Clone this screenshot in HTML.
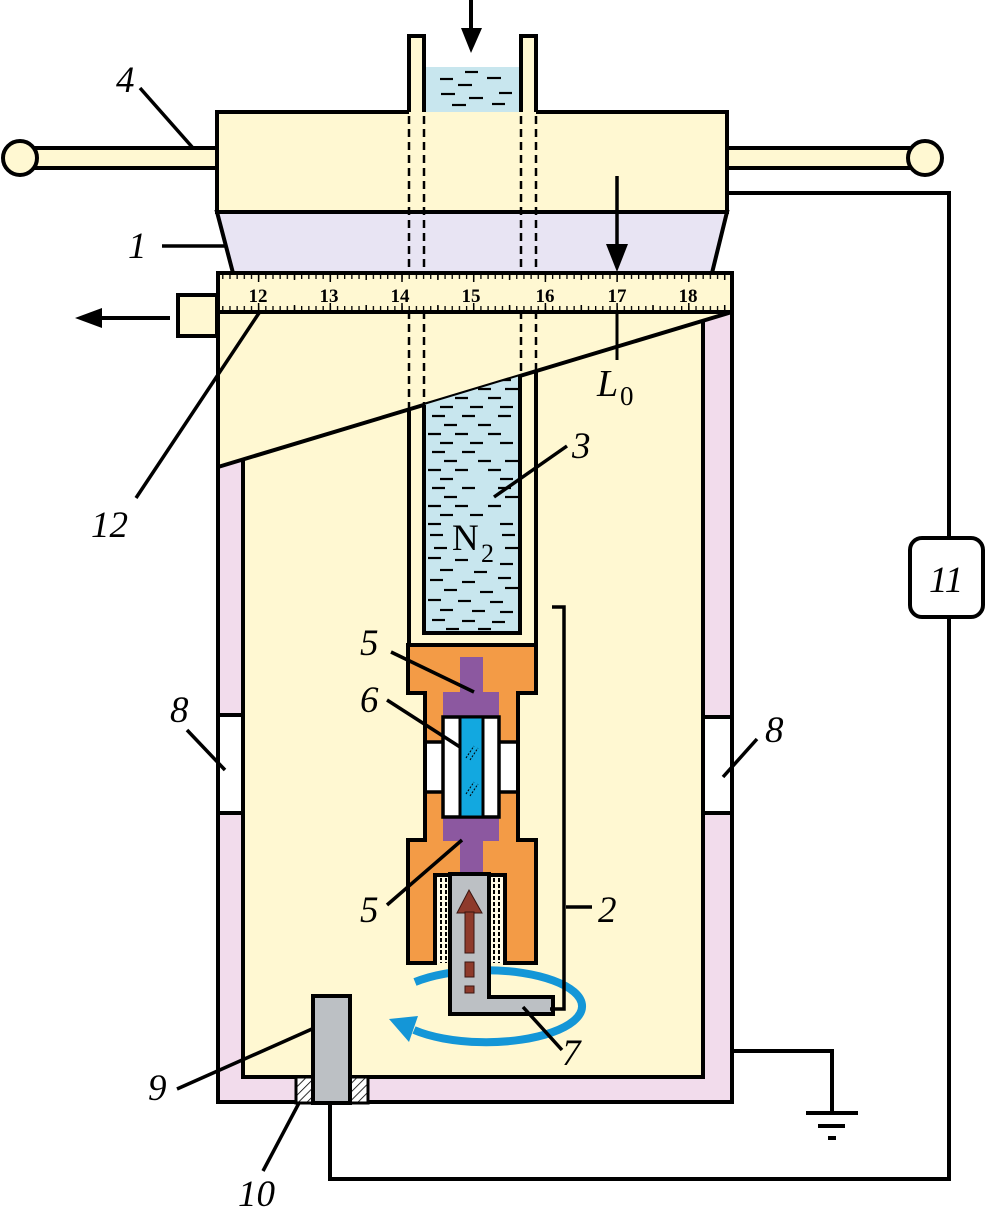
<!DOCTYPE html>
<html><head><meta charset="utf-8"><style>
html,body{margin:0;padding:0;background:#fff;}
svg{display:block;}
.lb{font-family:"Liberation Serif",serif;font-style:italic;font-size:37px;fill:#000;}
</style></head><body>
<svg width="986" height="1207" viewBox="0 0 986 1207" xmlns="http://www.w3.org/2000/svg">
<defs>
<pattern id="tk" x="258" y="273" width="7.17" height="39" patternUnits="userSpaceOnUse">
<rect x="0" y="2" width="1.3" height="4" fill="#000"/>
<rect x="0" y="33" width="1.3" height="4" fill="#000"/>
</pattern>
<pattern id="hatch" width="6" height="6" patternUnits="userSpaceOnUse" patternTransform="rotate(45)">
<rect width="6" height="6" fill="#fff"/>
<line x1="0" y1="0" x2="0" y2="6" stroke="#000" stroke-width="1.6"/>
</pattern>
<clipPath id="liq"><polygon points="426,404 518,376 518,631 426,631"/></clipPath>
</defs>

<!-- wires -->
<g fill="none" stroke="#000" stroke-width="4">
<path d="M727,193 H949 V538"/>
<path d="M949,617 V1179 H330 V1100"/>
<path d="M732,1051 H832 V1113"/>
<line x1="806" y1="1113" x2="858" y2="1113"/>
<line x1="818" y1="1126" x2="845" y2="1126"/>
<line x1="828" y1="1138" x2="836" y2="1138"/>
</g>
<rect x="910" y="538" width="73" height="79" rx="12" fill="#fff" stroke="#000" stroke-width="4"/>
<text class="lb" x="929" y="592">11</text>

<!-- handles -->
<rect x="30" y="148" width="190" height="20" fill="#fff8d2" stroke="#000" stroke-width="4"/>
<circle cx="20" cy="158" r="17" fill="#fff8d2" stroke="#000" stroke-width="4"/>
<rect x="724" y="148" width="186" height="20" fill="#fff8d2" stroke="#000" stroke-width="4"/>
<circle cx="925" cy="158" r="17" fill="#fff8d2" stroke="#000" stroke-width="4"/>

<!-- top tube with liquid -->
<rect x="424" y="67" width="97" height="47" fill="#c8e6ee"/>
<g stroke="#000" stroke-width="2.2">
<line x1="440" y1="79" x2="453" y2="79"/><line x1="465" y1="72" x2="478" y2="72"/>
<line x1="458" y1="85" x2="472" y2="85"/><line x1="487" y1="78" x2="501" y2="78"/>
<line x1="441" y1="94" x2="455" y2="94"/><line x1="469" y1="98" x2="483" y2="98"/>
<line x1="452" y1="105" x2="466" y2="105"/><line x1="499" y1="93" x2="512" y2="93"/>
<line x1="492" y1="104" x2="505" y2="104"/>
</g>
<rect x="409" y="36" width="15" height="80" fill="#fff8d2"/>
<rect x="521" y="36" width="15" height="80" fill="#fff8d2"/>
<path d="M409,114 V36 H424 V114" fill="none" stroke="#000" stroke-width="4"/>
<path d="M521,114 V36 H536 V114" fill="none" stroke="#000" stroke-width="4"/>

<!-- lid -->
<rect x="217" y="112" width="510" height="100" fill="#fff8d2"/>
<path d="M409,112 H217 V212 H727 V112 H536" fill="none" stroke="#000" stroke-width="4"/>
<polygon points="217,212 727,212 712,273 233,273" fill="#e8e4f3" stroke="#000" stroke-width="4"/>

<!-- vessel -->
<rect x="218" y="312" width="514" height="790" fill="#f2dcec"/>
<rect x="218" y="715" width="25" height="98" fill="#fff"/>
<rect x="703" y="717" width="29" height="96" fill="#fff"/>
<rect x="243" y="312" width="460" height="765" fill="#fff8d2" stroke="#000" stroke-width="4"/>
<polygon points="216,310 734,310 734,312 216,467" fill="#fff8d2"/>
<line x1="218" y1="467" x2="732" y2="312" stroke="#000" stroke-width="4"/>
<rect x="218" y="312" width="514" height="790" fill="none" stroke="#000" stroke-width="4"/>
<g stroke="#000" stroke-width="4">
<line x1="218" y1="715" x2="243" y2="715"/><line x1="218" y1="813" x2="243" y2="813"/>
<line x1="703" y1="717" x2="732" y2="717"/><line x1="703" y1="813" x2="732" y2="813"/>
</g>

<!-- dewar -->
<polygon points="424,405 520,376 520,633 424,633" fill="#c8e6ee"/>
<g clip-path="url(#liq)" stroke="#000" stroke-width="2.2">
<line x1="432" y1="380" x2="445" y2="380"/><line x1="462" y1="380" x2="475" y2="380"/><line x1="498" y1="380" x2="511" y2="380"/>
<line x1="444" y1="389" x2="457" y2="389"/><line x1="478" y1="389" x2="491" y2="389"/><line x1="505" y1="389" x2="518" y2="389"/>
<line x1="428" y1="398" x2="441" y2="398"/><line x1="455" y1="398" x2="468" y2="398"/><line x1="488" y1="398" x2="501" y2="398"/>
<line x1="440" y1="407" x2="453" y2="407"/><line x1="470" y1="407" x2="483" y2="407"/><line x1="500" y1="407" x2="513" y2="407"/>
<line x1="432" y1="416" x2="445" y2="416"/><line x1="462" y1="416" x2="475" y2="416"/><line x1="498" y1="416" x2="511" y2="416"/>
<line x1="444" y1="425" x2="457" y2="425"/><line x1="478" y1="425" x2="491" y2="425"/>
<line x1="428" y1="434" x2="441" y2="434"/><line x1="455" y1="434" x2="468" y2="434"/><line x1="488" y1="434" x2="501" y2="434"/>
<line x1="440" y1="443" x2="453" y2="443"/><line x1="470" y1="443" x2="483" y2="443"/><line x1="500" y1="443" x2="513" y2="443"/>
<line x1="432" y1="452" x2="445" y2="452"/><line x1="462" y1="452" x2="475" y2="452"/>
<line x1="444" y1="461" x2="457" y2="461"/><line x1="478" y1="461" x2="491" y2="461"/><line x1="505" y1="461" x2="518" y2="461"/>
<line x1="428" y1="470" x2="441" y2="470"/><line x1="455" y1="470" x2="468" y2="470"/><line x1="488" y1="470" x2="501" y2="470"/>
<line x1="440" y1="479" x2="453" y2="479"/><line x1="500" y1="479" x2="513" y2="479"/>
<line x1="432" y1="488" x2="445" y2="488"/><line x1="462" y1="488" x2="475" y2="488"/><line x1="498" y1="488" x2="511" y2="488"/>
<line x1="444" y1="497" x2="457" y2="497"/><line x1="505" y1="497" x2="518" y2="497"/>
<line x1="428" y1="506" x2="441" y2="506"/><line x1="455" y1="506" x2="468" y2="506"/><line x1="488" y1="506" x2="501" y2="506"/>
<line x1="440" y1="515" x2="453" y2="515"/><line x1="470" y1="515" x2="483" y2="515"/>
<line x1="428" y1="524" x2="441" y2="524"/><line x1="500" y1="524" x2="513" y2="524"/>
<line x1="430" y1="535" x2="443" y2="535"/><line x1="502" y1="535" x2="515" y2="535"/>
<line x1="434" y1="548" x2="447" y2="548"/><line x1="505" y1="548" x2="518" y2="548"/>
<line x1="428" y1="558" x2="441" y2="558"/><line x1="455" y1="560" x2="468" y2="560"/><line x1="500" y1="564" x2="513" y2="564"/>
<line x1="440" y1="570" x2="453" y2="570"/><line x1="474" y1="572" x2="487" y2="572"/>
<line x1="430" y1="580" x2="443" y2="580"/><line x1="462" y1="582" x2="475" y2="582"/><line x1="498" y1="578" x2="511" y2="578"/>
<line x1="444" y1="590" x2="457" y2="590"/><line x1="480" y1="592" x2="493" y2="592"/><line x1="505" y1="588" x2="518" y2="588"/>
<line x1="428" y1="600" x2="441" y2="600"/><line x1="458" y1="601" x2="471" y2="601"/><line x1="490" y1="602" x2="503" y2="602"/>
<line x1="440" y1="610" x2="453" y2="610"/><line x1="472" y1="611" x2="485" y2="611"/><line x1="500" y1="612" x2="513" y2="612"/>
<line x1="432" y1="620" x2="445" y2="620"/><line x1="462" y1="621" x2="475" y2="621"/><line x1="492" y1="622" x2="505" y2="622"/>
<line x1="446" y1="629" x2="459" y2="629"/><line x1="478" y1="629" x2="491" y2="629"/>
</g>
<text x="452" y="550" font-family="'Liberation Serif',serif" font-size="37" fill="#000">N</text>
<text x="481" y="562" font-family="'Liberation Serif',serif" font-size="26" fill="#000">2</text>
<path d="M424,405 V633 H520 V376" fill="none" stroke="#000" stroke-width="4"/>
<line x1="409" y1="410" x2="409" y2="647" stroke="#000" stroke-width="4"/>
<line x1="536" y1="371" x2="536" y2="647" stroke="#000" stroke-width="4"/>

<!-- dashed tube lines -->
<g stroke="#000" stroke-width="2.5" stroke-dasharray="8 5">
<line x1="409" y1="116" x2="409" y2="410"/>
<line x1="424" y1="116" x2="424" y2="405"/>
<line x1="521" y1="116" x2="521" y2="376"/>
<line x1="536" y1="116" x2="536" y2="371"/>
</g>

<!-- ruler -->
<rect x="218" y="273" width="514" height="39" fill="#fff8d2" stroke="#000" stroke-width="4"/>
<rect x="221" y="273" width="508" height="39" fill="url(#tk)"/>
<g stroke="#000" stroke-width="1.5">
<line x1="258.6" y1="275" x2="258.6" y2="282"/><line x1="258.6" y1="303" x2="258.6" y2="310"/>
<line x1="330.3" y1="275" x2="330.3" y2="282"/><line x1="330.3" y1="303" x2="330.3" y2="310"/>
<line x1="402" y1="275" x2="402" y2="282"/><line x1="402" y1="303" x2="402" y2="310"/>
<line x1="473.7" y1="275" x2="473.7" y2="282"/><line x1="473.7" y1="303" x2="473.7" y2="310"/>
<line x1="545.4" y1="275" x2="545.4" y2="282"/><line x1="545.4" y1="303" x2="545.4" y2="310"/>
<line x1="617.1" y1="275" x2="617.1" y2="282"/><line x1="617.1" y1="303" x2="617.1" y2="310"/>
<line x1="688.8" y1="275" x2="688.8" y2="282"/><line x1="688.8" y1="303" x2="688.8" y2="310"/>
<line x1="294.5" y1="275" x2="294.5" y2="280"/><line x1="294.5" y1="305" x2="294.5" y2="310"/>
<line x1="366.2" y1="275" x2="366.2" y2="280"/><line x1="366.2" y1="305" x2="366.2" y2="310"/>
<line x1="437.9" y1="275" x2="437.9" y2="280"/><line x1="437.9" y1="305" x2="437.9" y2="310"/>
<line x1="509.6" y1="275" x2="509.6" y2="280"/><line x1="509.6" y1="305" x2="509.6" y2="310"/>
<line x1="581.3" y1="275" x2="581.3" y2="280"/><line x1="581.3" y1="305" x2="581.3" y2="310"/>
<line x1="653" y1="275" x2="653" y2="280"/><line x1="653" y1="305" x2="653" y2="310"/>
<line x1="724.7" y1="275" x2="724.7" y2="280"/><line x1="724.7" y1="305" x2="724.7" y2="310"/>
</g>
<g font-family="'Liberation Serif',serif" font-weight="bold" font-size="19" fill="#000" text-anchor="middle">
<text x="258" y="302">12</text><text x="329" y="302">13</text><text x="400" y="302">14</text>
<text x="471" y="302">15</text><text x="545" y="302">16</text><text x="617" y="302">17</text><text x="688" y="302">18</text>
</g>
<line x1="617" y1="312" x2="617" y2="360" stroke="#000" stroke-width="3"/>
<text class="lb" x="597" y="396" style="font-size:38px">L</text>
<text x="620" y="405" font-family="'Liberation Serif',serif" font-size="27" fill="#000">0</text>

<!-- arrows -->
<line x1="471" y1="0" x2="471" y2="32" stroke="#000" stroke-width="4"/>
<polygon points="461,28 482,28 471,53" fill="#000"/>
<line x1="617" y1="176" x2="617" y2="250" stroke="#000" stroke-width="3.5"/>
<polygon points="606,244 628,244 617,272" fill="#000"/>
<rect x="178" y="295" width="39" height="41" fill="#fff8d2" stroke="#000" stroke-width="4"/>
<line x1="170" y1="318" x2="98" y2="318" stroke="#000" stroke-width="4"/>
<polygon points="75,318 102,308 102,328" fill="#000"/>

<!-- orange anvil holder -->
<path d="M408,645 H536 V693 H518 V840 H536 V963 H505 V875 H435 V963 H408 V840 H425 V693 H408 Z" fill="#f39b46" stroke="#000" stroke-width="4" stroke-linejoin="miter"/>
<rect x="427" y="742" width="16" height="50" fill="#fff"/>
<rect x="499" y="742" width="17" height="50" fill="#fff"/>
<g stroke="#000" stroke-width="3.5">
<line x1="425" y1="742" x2="443" y2="742"/><line x1="425" y1="792" x2="443" y2="792"/>
<line x1="499" y1="742" x2="518" y2="742"/><line x1="499" y1="792" x2="518" y2="792"/>
</g>
<rect x="460" y="657" width="23" height="36" fill="#8c58a0"/>
<rect x="443" y="692" width="56" height="25" fill="#8c58a0"/>
<rect x="443" y="817" width="56" height="24" fill="#8c58a0"/>
<rect x="460" y="840" width="23" height="35" fill="#8c58a0"/>
<rect x="443" y="717" width="56" height="100" fill="#fff" stroke="#000" stroke-width="3.5"/>
<rect x="460" y="717" width="23" height="100" fill="#12a8e0" stroke="#000" stroke-width="3"/>
<g stroke="#000" stroke-width="1" stroke-dasharray="2 1.5">
<line x1="466" y1="758" x2="474" y2="746"/><line x1="470" y1="760" x2="478" y2="748"/>
<line x1="466" y1="794" x2="474" y2="782"/><line x1="470" y1="796" x2="478" y2="784"/>
</g>

<!-- heater strips -->
<rect x="437" y="877" width="13" height="86" fill="#fffbe6"/>
<rect x="489" y="877" width="14" height="86" fill="#fffbe6"/>
<g stroke="#000" stroke-width="2" stroke-dasharray="4 2">
<line x1="441" y1="878" x2="441" y2="963"/><line x1="446" y1="878" x2="446" y2="963"/>
<line x1="494" y1="878" x2="494" y2="963"/><line x1="499" y1="878" x2="499" y2="963"/>
</g>

<!-- rotation arrow -->
<path d="M415,982 A96,36 0 1,1 414,1030" fill="none" stroke="#1496d7" stroke-width="8"/>
<polygon points="389,1019 418,1016 409,1042" fill="#1496d7"/>

<!-- gray L -->
<path d="M450,874 H489 V997 H553 V1014 H450 Z" fill="#bcc0c4" stroke="#000" stroke-width="4"/>
<polygon points="469,890 482,913 457,913" fill="#8e3a2b" stroke="#3a1510" stroke-width="1"/>
<rect x="465" y="912" width="9" height="41" fill="#8e3a2b" stroke="#3a1510" stroke-width="1"/>
<rect x="465" y="962" width="9" height="15" fill="#8e3a2b" stroke="#3a1510" stroke-width="1"/>
<rect x="465" y="986" width="9" height="7" fill="#8e3a2b" stroke="#3a1510" stroke-width="1"/>

<!-- wire 2 -->
<path d="M552,607 H564 V1009 H550" fill="none" stroke="#000" stroke-width="3.5"/>

<!-- electrode -->
<rect x="296" y="1077" width="17" height="26" fill="url(#hatch)" stroke="#000" stroke-width="3"/>
<rect x="350" y="1077" width="18" height="26" fill="url(#hatch)" stroke="#000" stroke-width="3"/>
<rect x="313" y="996" width="37" height="107" fill="#bcc0c4" stroke="#000" stroke-width="4"/>

<!-- leaders -->
<g stroke="#000" stroke-width="3.5">
<line x1="140" y1="88" x2="193" y2="148"/>
<line x1="162" y1="246" x2="226" y2="246"/>
<line x1="136" y1="498" x2="259" y2="313"/>
<line x1="567" y1="446" x2="494" y2="497"/>
<line x1="391" y1="652" x2="474" y2="692"/>
<line x1="387" y1="700" x2="460" y2="747"/>
<line x1="387" y1="905" x2="462" y2="840"/>
<line x1="187" y1="730" x2="225" y2="770"/>
<line x1="757" y1="739" x2="723" y2="777"/>
<line x1="566" y1="907" x2="592" y2="907"/>
<line x1="523" y1="1007" x2="562" y2="1050"/>
<line x1="177" y1="1089" x2="312" y2="1029"/>
<line x1="263" y1="1171" x2="299" y2="1103"/>
</g>

<!-- labels -->
<g class="lb">
<text x="116" y="92">4</text>
<text x="128" y="258">1</text>
<text x="91" y="537">12</text>
<text x="572" y="458">3</text>
<text x="360" y="655">5</text>
<text x="360" y="712">6</text>
<text x="360" y="922">5</text>
<text x="170" y="722">8</text>
<text x="765" y="742">8</text>
<text x="598" y="922">2</text>
<text x="562" y="1065">7</text>
<text x="148" y="1100">9</text>
<text x="238" y="1206">10</text>
</g>
</svg>
</body></html>
